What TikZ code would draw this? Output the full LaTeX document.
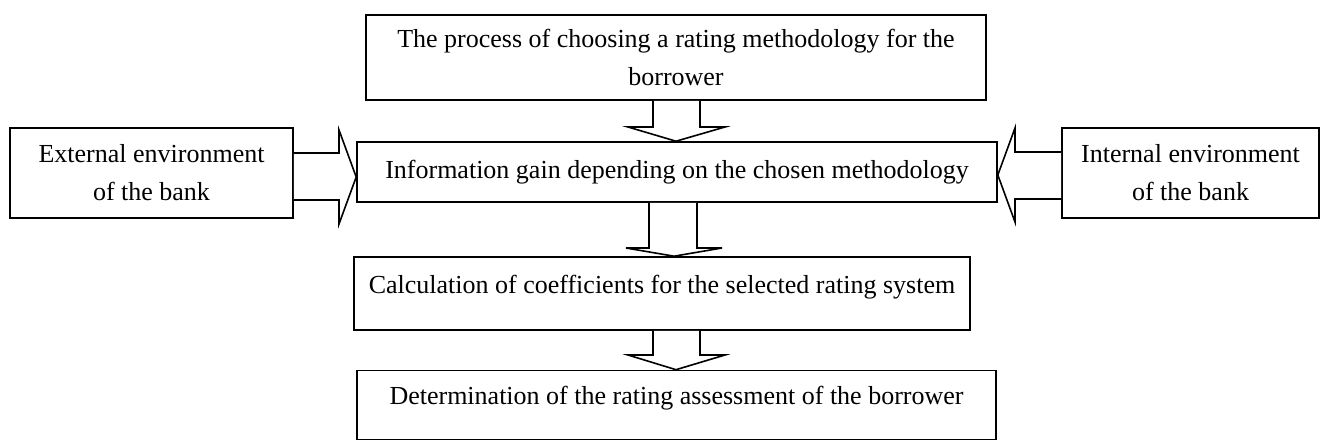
\documentclass[tikz,border=0pt]{standalone}
\usepackage{fontspec}
\setmainfont{Liberation Serif}
\begin{document}
\begin{tikzpicture}[x=1pt,y=-1pt,
  box/.style={draw,line width=1.6pt,inner sep=0pt,align=center,font=\fontsize{26}{38}\selectfont},
  oneline/.style={text height=18pt,text depth=6pt},
  hollow/.style={draw,line width=1.6pt,fill=white,line join=miter}]
\useasboundingbox (0,0) rectangle (1324,444);
% boxes (centers / sizes in px)
\node[box,minimum width=620pt,minimum height=85pt] (top) at (676,57.5) {The process of choosing a rating methodology for the\\borrower};
\node[box,oneline,minimum width=640pt,minimum height=60pt] (info) at (677,172) {Information gain depending on the chosen methodology};
\node[box,oneline,minimum width=616pt,minimum height=73pt,text depth=19pt] (calc) at (662,293.5) {Calculation of coefficients for the selected rating system};
\node[box,oneline,minimum width=639pt,minimum height=69pt,text depth=19pt] (det) at (676.5,405) {Determination of the rating assessment of the borrower};
\node[box,minimum width=283pt,minimum height=90pt] (ext) at (151.5,173) {External environment\\of the bank};
\node[box,minimum width=257pt,minimum height=90pt] (int) at (1190.5,173) {Internal environment\\of the bank};
% hollow block arrows between the named boxes
\draw[hollow] (653,0 |- top.south) -- (653,127) -- (628,127) -- (676,0 |- info.north) -- (725,127) -- (700,127) -- (700,0 |- top.south);
\draw[hollow] (649,0 |- info.south) -- (649,248) -- (626,248) -- (674,0 |- calc.north) -- (722,248) -- (697,248) -- (697,0 |- info.south);
\draw[hollow] (653,0 |- calc.south) -- (653,355) -- (628,355) -- (676,0 |- det.north) -- (725,355) -- (700,355) -- (700,0 |- calc.south);
\draw[hollow] (ext.east |- 0,153) -- (339,153) -- (339,130) -- (info.west |- 0,177) -- (339,224) -- (339,200) -- (ext.east |- 0,200);
\draw[hollow] (int.west |- 0,152) -- (1015,152) -- (1015,128) -- (info.east |- 0,175) -- (1015,222) -- (1015,199) -- (int.west |- 0,199);
\end{tikzpicture}
\end{document}
